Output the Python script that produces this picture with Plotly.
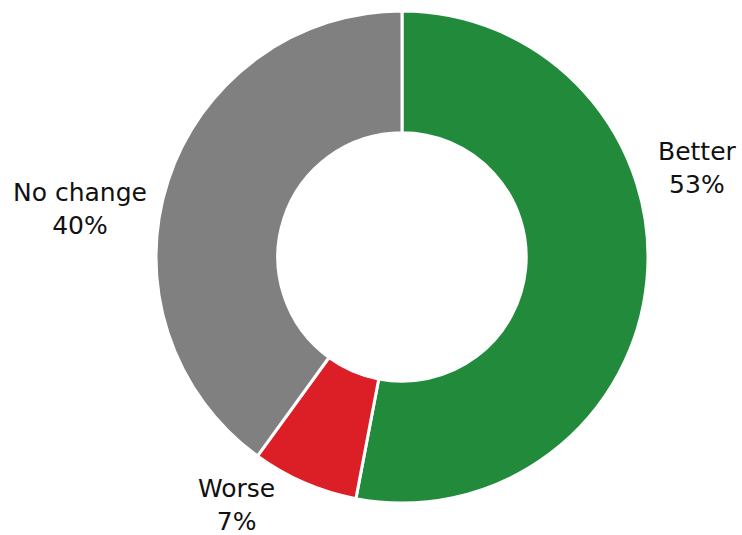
import plotly.graph_objects as go

CATEGORIAS = ["Better", "Worse", "No change"]
VALORES = [53, 7, 40]
COLORES = ["#218B3B", "#DC1F26", "#808080"]

# posiciones de las etiquetas (papel)
POS_ETIQUETAS = {
    "Better": (697 / 742, 1 - 168 / 535),
    "Worse": (236 / 742, 1 - 505 / 535),
    "No change": (80 / 742, 1 - 209 / 535),
}

fig = go.Figure()
fig.add_trace(go.Pie(
    labels=CATEGORIAS, values=VALORES,
    hole=0.505, sort=False, direction="clockwise", rotation=0,
    marker=dict(colors=COLORES, line=dict(color="white", width=3)),
    textinfo="none", hoverinfo="label+percent",
    domain=dict(x=[156 / 742, 648 / 742], y=[32 / 535, 524 / 535]),
    showlegend=False,
))

total = sum(VALORES)
for cat, val in zip(CATEGORIAS, VALORES):
    x, y = POS_ETIQUETAS[cat]
    fig.add_annotation(
        x=x, y=y, xref="paper", yref="paper",
        xanchor="center", yanchor="middle",
        text=f"{cat}<br>{round(100 * val / total)}%",
        showarrow=False, align="center",
        font=dict(size=25, color="#111111", family="DejaVu Sans"),
    )

fig.update_layout(
    width=742, height=535,
    margin=dict(l=0, r=0, t=0, b=0),
    paper_bgcolor="white", plot_bgcolor="white",
)
fig.write_html("out.html", config={"displayModeBar": False},
               post_script="document.body.style.margin='0';")
